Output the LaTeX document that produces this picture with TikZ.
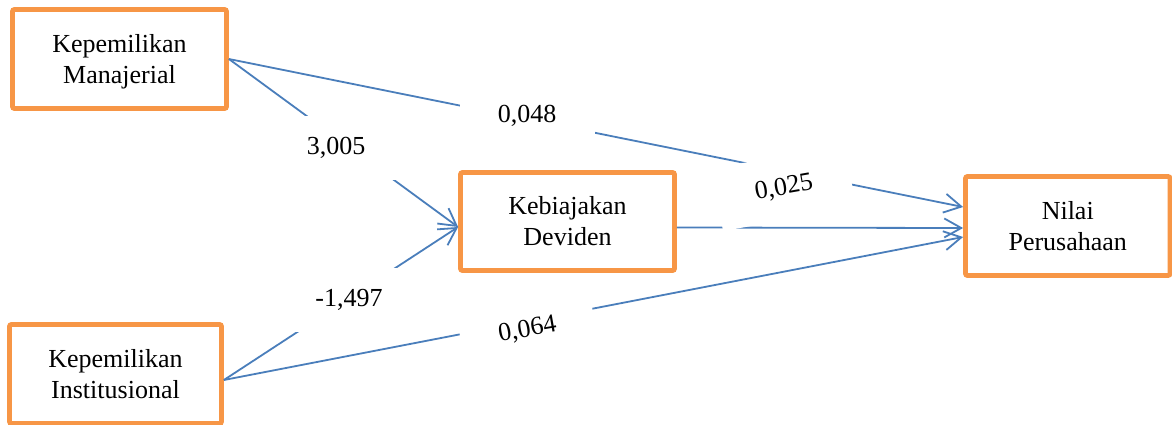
\documentclass[tikz,border=0pt]{standalone}
\usepackage{fontspec}
\setmainfont{Liberation Serif}
\usetikzlibrary{arrows.meta}
\definecolor{boxorange}{HTML}{F79646}
\definecolor{linkblue}{HTML}{4A7EBB}
\tikzset{
  varbox/.style={draw=boxorange, line width=4.8pt, rounded corners=2pt, fill=white,
    minimum width=214pt, minimum height=99pt, inner sep=0pt, align=center,
    font=\fontsize{26}{31}\selectfont},
  link/.style={draw=linkblue, line width=1.8pt, -{Straight Barb[length=17pt,width=19pt]}},
  coef/.style={fill=white, minimum width=135pt, minimum height=63.5pt, inner sep=0pt,
    font=\fontsize{26}{31}\selectfont},
}
\begin{document}
\begin{tikzpicture}[x=1pt,y=-1pt]
\useasboundingbox (0,0) rectangle (1172,425);

% variables
\node[varbox, text depth=0pt] (M) at (119.5,59) {Kepemilikan\\Manajerial};
\node[varbox, minimum height=98pt] (K) at (567.5,221.5) {Kebiajakan\\Deviden};
\node[varbox, minimum width=204.5pt] (N) at (1067.75,226) {Nilai\\Perusahaan};
\node[varbox, minimum width=212pt] (I) at (115.5,374) {Kepemilikan\\Institusional};

% paths
\draw[link] (M.east) -- ([yshift=-5.5pt]K.west);
\draw[link] (M.east) -- ([yshift=19pt]N.west);
\draw[link] ([yshift=-6pt]K.east) -- ([yshift=-2pt]N.west);
\draw[link] ([yshift=-6pt]I.east) -- ([yshift=-5.5pt]K.west);
\draw[link] ([yshift=-6pt]I.east) -- ([yshift=-11pt]N.west);

% path coefficients
\node[coef] (cMK) at (336,148) {3,005};
\node[coef] (cMN) at (527,116) {0,048};
\node[coef, rotate=10] (cKN) at (784,188) {0,025};
\node[coef] (cIK) at (349,300) {-1,497};
\node[coef, rotate=10] (cIN) at (527.5,330) {0,064};
\end{tikzpicture}
\end{document}
